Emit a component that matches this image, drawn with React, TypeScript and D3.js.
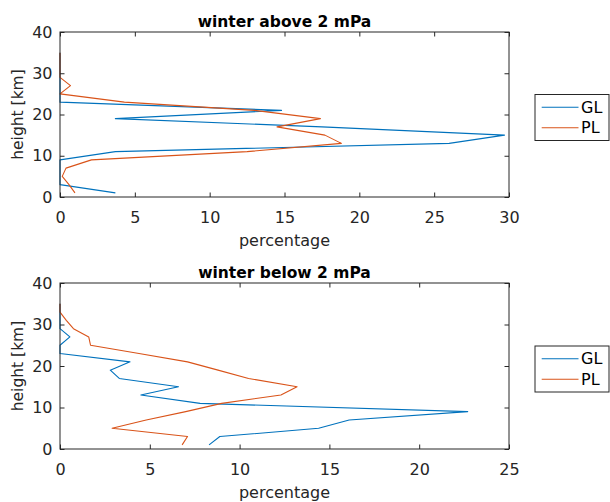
import * as d3 from "d3";
import { useLayoutEffect, useRef } from "react";

// heights [km] at which the percentages were sampled
const heights = [1, 3, 5, 7, 9, 11, 13, 15, 17, 19, 21, 23, 25, 27, 29, 31, 33, 35];

// winter above 2 mPa
const aboveGL = [3.7, 0, 0, 0, 0, 3.7, 26.0, 29.7, 17.5, 3.7, 14.8, 0, 0, 0, 0, 0, 0, 0];
const abovePL = [1.0, 0.6, 0.15, 0.4, 2.1, 12.5, 18.8, 17.7, 14.5, 17.4, 13.0, 4.3, 0, 0.7, 0, 0, 0, 0];

// winter below 2 mPa
const belowGL = [8.3, 8.9, 14.4, 16.1, 22.7, 7.8, 4.5, 6.6, 3.3, 2.8, 3.9, 0, 0, 0.55, 0, 0, 0, 0];
const belowPL = [6.8, 7.1, 2.9, 4.8, 7.0, 9.0, 12.3, 13.2, 10.5, 8.8, 7.1, 4.4, 1.7, 1.6, 0.75, 0.35, 0, 0];

const seriesNames = ["GL", "PL"];
const seriesColors = ["#0072BD", "#D95319"];

const yTicks = [0, 10, 20, 30, 40];
const aboveXTicks = [0, 5, 10, 15, 20, 25, 30];
const belowXTicks = [0, 5, 10, 15, 20, 25];

const WIDTH = 610;
const HEIGHT = 502;
const FONT = "'DejaVu Sans', sans-serif";
const AXIS_COLOR = "#262626";
const PLOT_LEFT = 60;
const PLOT_RIGHT = 509;

const panels = [
  { title: "winter above 2 mPa", gl: aboveGL, pl: abovePL, xMax: 30, xTicks: aboveXTicks, top: 32, bottom: 197 },
  { title: "winter below 2 mPa", gl: belowGL, pl: belowPL, xMax: 25, xTicks: belowXTicks, top: 283, bottom: 449 },
];

function drawPanel(svg, panel) {
  const x = d3.scaleLinear().domain([0, panel.xMax]).range([PLOT_LEFT, PLOT_RIGHT]);
  const y = d3.scaleLinear().domain([0, 40]).range([panel.bottom, panel.top]);
  const g = svg.append("g").attr("class", "panel");

  // data lines
  const line = d3
    .line()
    .x((d) => x(d))
    .y((d, i) => y(heights[i]));
  [panel.gl, panel.pl].forEach((values, k) => {
    g.append("path")
      .attr("d", line(values))
      .attr("fill", "none")
      .attr("stroke", seriesColors[k])
      .attr("stroke-width", 1.1)
      .attr("stroke-linejoin", "round");
  });

  // axes, MATLAB style: inward ticks mirrored on the box
  const styleAxis = (sel, showText) => {
    sel.select(".domain").remove();
    sel.selectAll("line").attr("stroke", AXIS_COLOR).attr("stroke-width", 1);
    sel.selectAll("text")
      .attr("fill", AXIS_COLOR)
      .style("font-family", FONT)
      .style("font-size", "16px");
    if (!showText) sel.selectAll("text").remove();
  };

  g.append("g")
    .attr("transform", `translate(0,${panel.bottom})`)
    .call(d3.axisBottom(x).tickValues(panel.xTicks).tickSizeInner(-4.5).tickSizeOuter(0).tickPadding(14.5))
    .call((s) => styleAxis(s, true));
  g.append("g")
    .attr("transform", `translate(0,${panel.top})`)
    .call(d3.axisTop(x).tickValues(panel.xTicks).tickSizeInner(-4.5).tickSizeOuter(0))
    .call((s) => styleAxis(s, false));
  g.append("g")
    .attr("transform", `translate(${PLOT_LEFT},0)`)
    .call(d3.axisLeft(y).tickValues(yTicks).tickSizeInner(-4.5).tickSizeOuter(0).tickPadding(7.5))
    .call((s) => styleAxis(s, true));
  g.append("g")
    .attr("transform", `translate(${PLOT_RIGHT},0)`)
    .call(d3.axisRight(y).tickValues(yTicks).tickSizeInner(-4.5).tickSizeOuter(0))
    .call((s) => styleAxis(s, false));

  // box
  g.append("rect")
    .attr("x", PLOT_LEFT)
    .attr("y", panel.top)
    .attr("width", PLOT_RIGHT - PLOT_LEFT)
    .attr("height", panel.bottom - panel.top)
    .attr("fill", "none")
    .attr("stroke", AXIS_COLOR)
    .attr("stroke-width", 1);

  // title
  g.append("text")
    .attr("x", (PLOT_LEFT + PLOT_RIGHT) / 2)
    .attr("y", panel.top - 5.5)
    .attr("text-anchor", "middle")
    .style("font-family", FONT)
    .style("font-weight", "bold")
    .style("font-size", "15.5px")
    .attr("fill", "#000")
    .text(panel.title);

  // axis labels
  g.append("text")
    .attr("x", (PLOT_LEFT + PLOT_RIGHT) / 2)
    .attr("y", panel.bottom + 49)
    .attr("text-anchor", "middle")
    .style("font-family", FONT)
    .style("font-size", "16px")
    .attr("fill", AXIS_COLOR)
    .text("percentage");
  g.append("text")
    .attr("transform", `translate(23,${(panel.top + panel.bottom) / 2}) rotate(-90)`)
    .attr("text-anchor", "middle")
    .style("font-family", FONT)
    .style("font-size", "15.5px")
    .attr("fill", AXIS_COLOR)
    .text("height [km]");

  // legend
  const legendTop = (panel.top + panel.bottom) / 2 + 3 - 23;
  const legend = g.append("g").attr("transform", `translate(535,${legendTop})`);
  legend
    .append("rect")
    .attr("width", 74)
    .attr("height", 46)
    .attr("fill", "#fff")
    .attr("stroke", AXIS_COLOR)
    .attr("stroke-width", 1);
  seriesNames.forEach((name, k) => {
    const ly = 12.7 + k * 20.5;
    legend
      .append("line")
      .attr("x1", 6.7)
      .attr("x2", 43.5)
      .attr("y1", ly)
      .attr("y2", ly)
      .attr("stroke", seriesColors[k])
      .attr("stroke-width", 1.1);
    legend
      .append("text")
      .attr("x", 46)
      .attr("y", ly)
      .attr("dy", "0.36em")
      .style("font-family", FONT)
      .style("font-size", "16px")
      .attr("fill", "#000")
      .text(name);
  });
}

export default function App() {
  const svgElement = useRef(null);

  useLayoutEffect(function draw() {
    const svg = d3.select(svgElement.current);
    svg.selectAll("*").remove();
    svg.append("rect").attr("width", WIDTH).attr("height", HEIGHT).attr("fill", "#fff");
    panels.forEach((panel) => drawPanel(svg, panel));
  }, []);

  return (
    <svg
      ref={svgElement}
      width={WIDTH}
      height={HEIGHT}
      style={{ position: "absolute", left: 0, top: 0, display: "block" }}
    ></svg>
  );
}
